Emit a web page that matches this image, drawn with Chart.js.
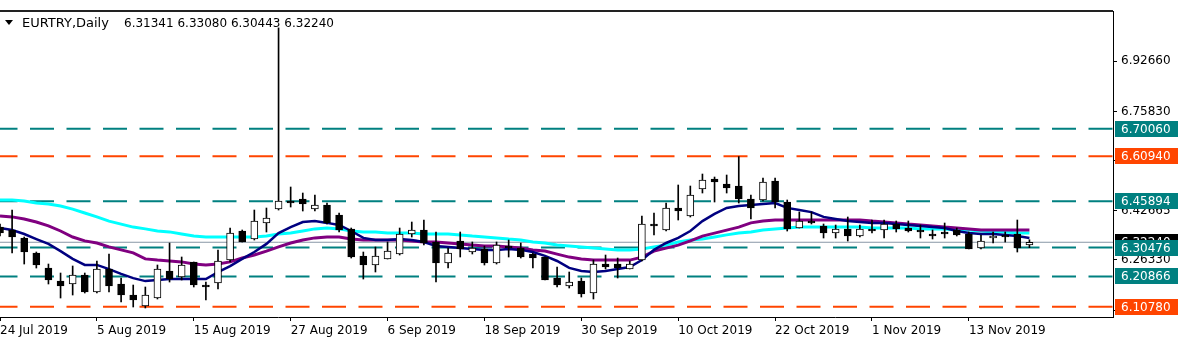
<!DOCTYPE html>
<html>
<head>
<meta charset="utf-8">
<title>EURTRY Daily</title>
<script src="https://cdn.jsdelivr.net/npm/chart.js@4.4.0/dist/chart.umd.min.js"></script>
<style>
    html, body { margin: 0; padding: 0; background: #fff; }
    #wrap { width: 1183px; height: 361px; }
</style>
</head>
<body>
<div id="wrap"><canvas id="chart" width="1183" height="361"></canvas></div>
<script>
// daily candles, 24 Jul 2019 .. 20 Nov 2019 (index = trading day)
const opens = [
    6.3733, 6.3633, 6.3366, 6.2866, 6.2366, 6.1933, 6.1833, 6.2133, 6.1566, 6.2333,
    6.1833, 6.1466, 6.1099, 6.1366, 6.2266, 6.2066, 6.2566, 6.1799, 6.1866, 6.2633,
    6.3599, 6.3333, 6.3866, 6.4333, 6.4599, 6.4666, 6.4333, 6.4466, 6.4133, 6.3666,
    6.2766, 6.2466, 6.2666, 6.2833, 6.3499, 6.3633, 6.3233, 6.2533, 6.3266, 6.2899,
    6.2999, 6.2533, 6.3099, 6.3033, 6.2833, 6.2733, 6.2033, 6.1766, 6.1933, 6.1533,
    6.2499, 6.2499, 6.2333, 6.2633, 6.3799, 6.3633, 6.4366, 6.4099, 6.4999, 6.5333,
    6.5166, 6.5099, 6.4666, 6.4633, 6.5266, 6.4566, 6.3699, 6.3933, 6.3766, 6.3533,
    6.3666, 6.3433, 6.3666, 6.3633, 6.3833, 6.3699, 6.3633, 6.3499, 6.3566, 6.3633,
    6.3499, 6.3033, 6.3366, 6.3433, 6.3499, 6.31341
];
const highs = [
    6.3833, 6.4299, 6.3399, 6.2899, 6.2499, 6.2199, 6.2433, 6.2199, 6.2599, 6.2833,
    6.2033, 6.1799, 6.1733, 6.2466, 6.3199, 6.2733, 6.2566, 6.1899, 6.2966, 6.3699,
    6.3633, 6.4299, 6.4366, 7.0370, 6.5066, 6.4866, 6.4799, 6.4533, 6.4199, 6.3699,
    6.2899, 6.3066, 6.3233, 6.3699, 6.3899, 6.3966, 6.3566, 6.3033, 6.3566, 6.3233,
    6.3099, 6.3233, 6.3299, 6.3199, 6.2866, 6.2733, 6.2399, 6.2233, 6.2033, 6.2633,
    6.2799, 6.2699, 6.2599, 6.4099, 6.4199, 6.4533, 6.5133, 6.5099, 6.5499, 6.5399,
    6.5466, 6.6080, 6.4799, 6.5366, 6.5366, 6.4633, 6.4233, 6.4233, 6.3833, 6.3799,
    6.4066, 6.3799, 6.3966, 6.3966, 6.3933, 6.3933, 6.3799, 6.3633, 6.3866, 6.3699,
    6.3566, 6.3466, 6.3566, 6.3566, 6.3966, 6.33080
];
const lows = [
    6.3433, 6.2866, 6.2499, 6.2366, 6.1833, 6.1366, 6.1466, 6.1533, 6.1533, 6.1566,
    6.1233, 6.1066, 6.1033, 6.1333, 6.1899, 6.1966, 6.1733, 6.1299, 6.1666, 6.2566,
    6.3233, 6.3299, 6.3566, 6.4299, 6.4399, 6.4266, 6.4266, 6.3833, 6.3566, 6.2699,
    6.1999, 6.2233, 6.2666, 6.2799, 6.3399, 6.3133, 6.1899, 6.2366, 6.2733, 6.2833,
    6.2466, 6.2499, 6.2733, 6.2699, 6.2366, 6.1966, 6.1733, 6.1699, 6.1399, 6.1333,
    6.2333, 6.2033, 6.2333, 6.2599, 6.3466, 6.3599, 6.3966, 6.4066, 6.4866, 6.4566,
    6.4866, 6.4533, 6.3999, 6.4599, 6.4366, 6.3599, 6.3699, 6.3833, 6.3366, 6.3366,
    6.3266, 6.3399, 6.3533, 6.3366, 6.3566, 6.3566, 6.3366, 6.3333, 6.3366, 6.3433,
    6.2999, 6.2999, 6.3199, 6.3233, 6.2899, 6.30443
];
const closes = [
    6.3533, 6.3399, 6.2899, 6.2466, 6.1966, 6.1766, 6.2133, 6.1566, 6.2333, 6.1766,
    6.1466, 6.1299, 6.1466, 6.2333, 6.1999, 6.2466, 6.1799, 6.1733, 6.2599, 6.3533,
    6.3233, 6.3933, 6.4033, 6.4599, 6.4533, 6.4499, 6.4466, 6.3866, 6.3633, 6.2733,
    6.2466, 6.2766, 6.2933, 6.3499, 6.3633, 6.3199, 6.2533, 6.2866, 6.2999, 6.3033,
    6.2533, 6.3133, 6.3033, 6.2733, 6.2699, 6.1966, 6.1799, 6.1899, 6.1499, 6.2499,
    6.2399, 6.2366, 6.2499, 6.3833, 6.3766, 6.4366, 6.4266, 6.4799, 6.5299, 6.5233,
    6.5033, 6.4666, 6.4366, 6.5233, 6.4566, 6.3666, 6.3933, 6.3866, 6.3533, 6.3666,
    6.3433, 6.3666, 6.3599, 6.3833, 6.3666, 6.3599, 6.3566, 6.3433, 6.3499, 6.3466,
    6.2999, 6.3266, 6.3433, 6.3399, 6.3033, 6.32240
];

// moving averages (navy = fast, purple = medium, aqua = slow)
const maFast = [
    6.370, 6.363, 6.350, 6.333, 6.317, 6.293, 6.267, 6.247, 6.247, 6.233,
    6.217, 6.203, 6.193, 6.197, 6.200, 6.200, 6.200, 6.200, 6.223, 6.243,
    6.267, 6.290, 6.317, 6.353, 6.373, 6.390, 6.393, 6.387, 6.380, 6.360,
    6.337, 6.330, 6.330, 6.333, 6.330, 6.323, 6.310, 6.307, 6.303, 6.300,
    6.297, 6.297, 6.300, 6.297, 6.290, 6.277, 6.260, 6.237, 6.227, 6.223,
    6.227, 6.233, 6.240, 6.263, 6.297, 6.320, 6.337, 6.360, 6.393, 6.417,
    6.437, 6.443, 6.447, 6.450, 6.453, 6.437, 6.430, 6.423, 6.407, 6.400,
    6.393, 6.390, 6.387, 6.387, 6.383, 6.380, 6.377, 6.373, 6.370, 6.360,
    6.353, 6.350, 6.350, 6.347, 6.343, 6.337
];
const maMid = [
    6.410, 6.407, 6.400, 6.390, 6.377, 6.360, 6.340, 6.327, 6.320, 6.307,
    6.297, 6.287, 6.267, 6.263, 6.260, 6.257, 6.250, 6.247, 6.250, 6.257,
    6.270, 6.280, 6.293, 6.307, 6.320, 6.330, 6.337, 6.340, 6.340, 6.333,
    6.330, 6.330, 6.330, 6.330, 6.327, 6.323, 6.323, 6.320, 6.317, 6.313,
    6.310, 6.310, 6.307, 6.303, 6.297, 6.293, 6.283, 6.273, 6.267, 6.263,
    6.263, 6.263, 6.263, 6.273, 6.293, 6.303, 6.313, 6.327, 6.343, 6.353,
    6.363, 6.373, 6.387, 6.393, 6.397, 6.397, 6.397, 6.397, 6.397, 6.397,
    6.397, 6.397, 6.393, 6.390, 6.387, 6.383, 6.380, 6.377, 6.373, 6.370,
    6.367, 6.363, 6.363, 6.363, 6.363, 6.363
];
const maSlow = [
    6.463, 6.463, 6.460, 6.453, 6.450, 6.443, 6.433, 6.420, 6.407, 6.393,
    6.383, 6.373, 6.367, 6.360, 6.357, 6.350, 6.343, 6.340, 6.340, 6.340,
    6.340, 6.340, 6.343, 6.350, 6.353, 6.360, 6.367, 6.370, 6.367, 6.360,
    6.357, 6.357, 6.353, 6.353, 6.353, 6.350, 6.350, 6.350, 6.347, 6.343,
    6.340, 6.337, 6.333, 6.330, 6.323, 6.320, 6.313, 6.310, 6.307, 6.303,
    6.300, 6.297, 6.297, 6.300, 6.307, 6.313, 6.323, 6.330, 6.333, 6.340,
    6.347, 6.353, 6.357, 6.363, 6.367, 6.370, 6.373, 6.373, 6.373, 6.373,
    6.373, 6.373, 6.370, 6.370, 6.370, 6.370, 6.367, 6.367, 6.367, 6.363,
    6.363, 6.360, 6.357, 6.357, 6.353, 6.353
];

const xTickPos = [0, 8, 16, 24, 32, 40, 48, 56, 64, 72, 80];
const xTickLabels = ['24 Jul 2019', '5 Aug 2019', '15 Aug 2019', '27 Aug 2019', '6 Sep 2019',
    '18 Sep 2019', '30 Sep 2019', '10 Oct 2019', '22 Oct 2019', '1 Nov 2019', '13 Nov 2019'];
const yTicks = [6.92660, 6.75830, 6.59495, 6.42665, 6.26330, 6.09500];

const levels = [6.70060, 6.60940, 6.45894, 6.30476, 6.20866, 6.10780];
const levelColors = ['#008080', '#ff4500', '#008080', '#008080', '#008080', '#ff4500'];
const bidPrice = 6.32240;

const symbolName = 'EURTRY,Daily';
const FONT = '"DejaVu Sans", Verdana, sans-serif';

const xMin = 0;
const xMax = 91.9;
const yMin = 6.0733;
const yMax = 7.0933;

const idx = opens.map((_, i) => i);

const datasets = [];

// candle wicks
datasets.push({
    type: 'bar',
    data: idx.map(i => ({ x: i, y: [lows[i], highs[i]] })),
    backgroundColor: '#000',
    barThickness: 1,
    grouped: false,
    order: 1
});
// candle bodies
datasets.push({
    type: 'bar',
    data: idx.map(i => ({ x: i, y: [opens[i], closes[i]] })),
    backgroundColor: idx.map(i => closes[i] >= opens[i] ? '#fff' : '#000'),
    borderColor: '#000',
    borderWidth: 1,
    borderSkipped: false,
    barThickness: 7,
    minBarLength: 2,
    grouped: false,
    order: 0
});

const maLine = (vals, color, width, order) => ({
    type: 'line',
    data: vals.map((v, i) => ({ x: i, y: v })),
    borderColor: color,
    borderWidth: width,
    pointRadius: 0,
    tension: 0,
    fill: false,
    order: order
});
datasets.push(maLine(maSlow, '#00ffff', 3, 4));
datasets.push(maLine(maMid, '#800080', 3, 3));
datasets.push(maLine(maFast, '#000080', 2.5, 2));

// bid line
datasets.push({
    type: 'line',
    data: [{ x: xMin, y: bidPrice }, { x: xMax, y: bidPrice }],
    borderColor: '#8897a6',
    borderWidth: 1,
    pointRadius: 0,
    order: 6
});

// horizontal levels
levels.forEach((lv, i) => {
    datasets.push({
        type: 'line',
        data: [{ x: xMin, y: lv }, { x: xMax, y: lv }],
        borderColor: levelColors[i],
        borderWidth: 2,
        borderDash: [24, 12.5],
        borderDashOffset: 6.5,
        pointRadius: 0,
        order: 5
    });
});

const overlay = {
    id: 'overlay',
    afterDraw(chart) {
        const { ctx, chartArea } = chart;
        const yScale = chart.scales.y;
        ctx.save();

        // top frame line
        ctx.strokeStyle = '#222';
        ctx.lineWidth = 2;
        ctx.beginPath();
        ctx.moveTo(0, chartArea.top);
        ctx.lineTo(chartArea.right, chartArea.top);
        ctx.stroke();

        // header
        ctx.fillStyle = '#000';
        ctx.beginPath();
        ctx.moveTo(5, 20);
        ctx.lineTo(13, 20);
        ctx.lineTo(9, 25);
        ctx.closePath();
        ctx.fill();
        ctx.textBaseline = 'alphabetic';
        ctx.textAlign = 'left';
        ctx.font = '13px ' + FONT;
        ctx.fillText(symbolName, 22, 27);
        ctx.font = '12px ' + FONT;
        const last = opens.length - 1;
        const vals = [opens[last], highs[last], lows[last], closes[last]].map(v => v.toFixed(5)).join(' ');
        ctx.fillText(vals, 124, 27);

        // price labels on the axis
        const box = (price, color) => {
            const py = Math.round(yScale.getPixelForValue(price));
            ctx.fillStyle = color;
            ctx.fillRect(chartArea.right + 2, py - 8, 63, 16);
            ctx.fillStyle = '#fff';
            ctx.textBaseline = 'middle';
            ctx.fillText(price.toFixed(5), chartArea.right + 8, py + 0.5);
        };
        box(bidPrice, '#000');
        levels.forEach((lv, i) => box(lv, levelColors[i]));

        ctx.restore();
    }
};

new Chart(document.getElementById('chart'), {
    data: { datasets: datasets },
    options: {
        responsive: false,
        animation: false,
        events: [],
        layout: { padding: { top: 11, left: 0, right: 0, bottom: 0 } },
        plugins: {
            legend: { display: false },
            tooltip: { enabled: false }
        },
        scales: {
            x: {
                type: 'linear',
                position: 'bottom',
                offset: false,
                min: xMin,
                max: xMax,
                afterBuildTicks: (scale) => {
                    scale.ticks = xTickPos.map(v => ({ value: v }));
                },
                afterFit: (scale) => {
                    scale.height = 44;
                    scale.paddingLeft = 0;
                    scale.paddingRight = 0;
                },
                grid: { display: true, offset: false, drawOnChartArea: false, drawTicks: true, tickLength: 4, color: '#000' },
                border: { display: true, color: '#000', width: 1 },
                ticks: {
                    autoSkip: false,
                    maxRotation: 0,
                    align: 'start',
                    padding: 3,
                    color: '#000',
                    font: { family: FONT, size: 12 },
                    callback: (v) => xTickLabels[xTickPos.indexOf(v)]
                }
            },
            y: {
                type: 'linear',
                position: 'right',
                min: yMin,
                max: yMax,
                afterBuildTicks: (scale) => {
                    scale.ticks = yTicks.map(v => ({ value: v }));
                },
                afterFit: (scale) => {
                    scale.width = 70;
                    scale.paddingTop = 0;
                    scale.paddingBottom = 0;
                },
                grid: { display: true, drawOnChartArea: false, drawTicks: true, tickLength: 4, color: '#000' },
                border: { display: true, color: '#000', width: 1 },
                ticks: {
                    padding: 4,
                    color: '#000',
                    font: { family: FONT, size: 12 },
                    callback: (v) => v.toFixed(5)
                }
            }
        }
    },
    plugins: [overlay]
});
</script>
</body>
</html>
